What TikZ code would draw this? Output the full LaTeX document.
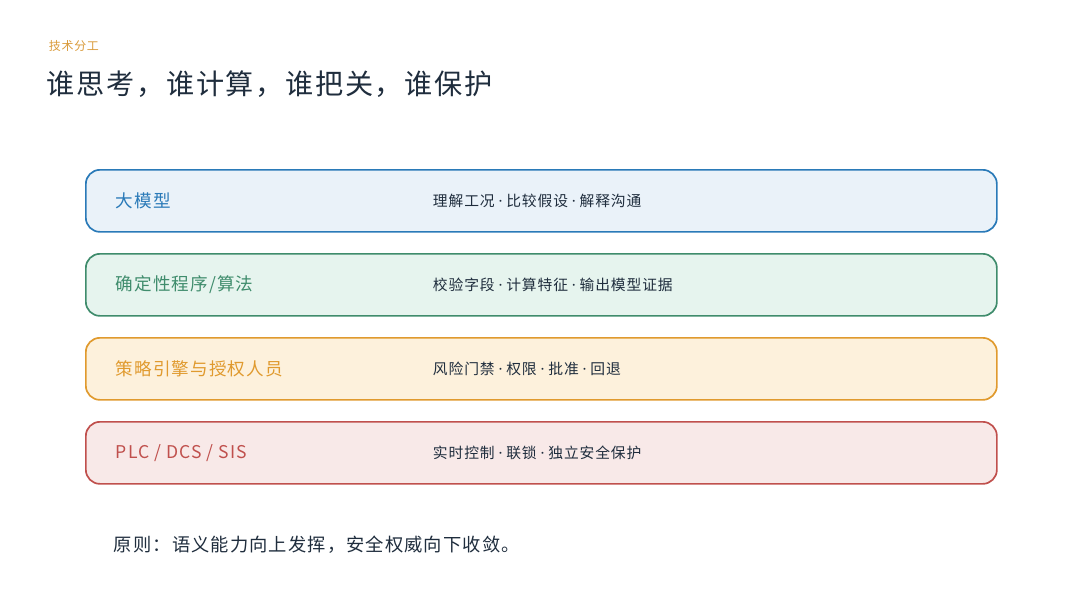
\documentclass[tikz,border=0pt]{standalone}
\usepackage{fontspec}
\setmainfont{Noto Sans CJK SC}[LetterSpace=6]
\newfontfamily\latinfont{Noto Sans}
\newcommand{\sep}{{\latinfont\ ·\ }}
\usepackage{tikz}
\usetikzlibrary{positioning}
\definecolor{ink}{HTML}{1F2D3D}
\definecolor{accent}{HTML}{D99A3A}
\definecolor{llmc}{HTML}{2A7AB8}\definecolor{llmf}{HTML}{EAF2F9}
\definecolor{algc}{HTML}{3F8C6C}\definecolor{algf}{HTML}{E6F4EE}
\definecolor{polc}{HTML}{E09A2E}\definecolor{polf}{HTML}{FDF1DC}
\definecolor{plcc}{HTML}{C0504D}\definecolor{plcf}{HTML}{F8E9E8}
\begin{document}
\begin{tikzpicture}[x=0.025cm, y=-0.025cm,
  layer/.style={draw, line width=1.2pt, rounded corners=10pt, minimum width=911*0.025cm,
                minimum height=62*0.025cm, anchor=north west},
  tag/.style={anchor=west, font=\fontsize{12.5}{14}\selectfont},
  duty/.style={anchor=west, font=\fontsize{10.5}{13}\selectfont, text=ink},
]
\useasboundingbox (0,0) rectangle (1080,600);
% 标题
\node[anchor=west, text=accent, font=\fontsize{8.5}{10}\selectfont] (kicker) at (44,46) {技术分工};
\node[anchor=west, text=ink, font=\fontsize{20}{24}\selectfont] (title) at (42,84) {谁思考，谁计算，谁把关，谁保护};

% 分层
\node[layer, draw=llmc, fill=llmf] (llm) at (85,169) {};
\node[tag, text=llmc] at ([xshift=26*0.025cm]llm.west) {大模型};
\node[duty] at ([xshift=343*0.025cm]llm.west) {理解工况\sep 比较假设\sep 解释沟通};

\node[layer, draw=algc, fill=algf] (alg) at (85,253) {};
\node[tag, text=algc] at ([xshift=26*0.025cm]alg.west) {确定性程序/算法};
\node[duty] at ([xshift=343*0.025cm]alg.west) {校验字段\sep 计算特征\sep 输出模型证据};

\node[layer, draw=polc, fill=polf] (pol) at (85,337) {};
\node[tag, text=polc] at ([xshift=26*0.025cm]pol.west) {策略引擎与授权人员};
\node[duty] at ([xshift=343*0.025cm]pol.west) {风险门禁\sep 权限\sep 批准\sep 回退};

\node[layer, draw=plcc, fill=plcf] (plc) at (85,421) {};
\node[tag, text=plcc] at ([xshift=26*0.025cm]plc.west) {PLC / DCS / SIS};
\node[duty] at ([xshift=343*0.025cm]plc.west) {实时控制\sep 联锁\sep 独立安全保护};

% 原则
\node[anchor=west, text=ink, font=\fontsize{13}{15}\selectfont] (rule) at (109,545) {原则：语义能力向上发挥，安全权威向下收敛。};
\end{tikzpicture}
\end{document}
